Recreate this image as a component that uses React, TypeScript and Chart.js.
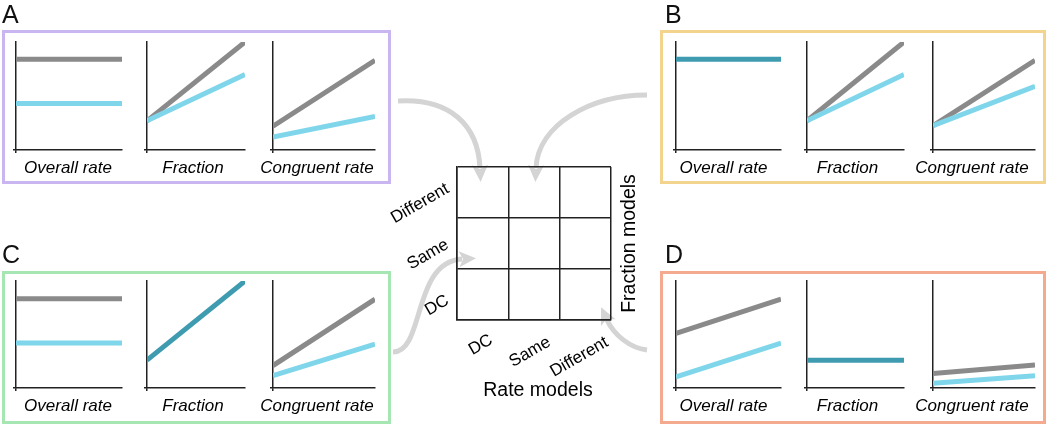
import React, { useEffect, useRef } from 'react';
import { Chart, registerables } from 'chart.js';

Chart.register(...registerables);

// ---------- data ----------
const xRange = [0, 1];
const plotLabels = ['Overall rate', 'Fraction', 'Congruent rate'];
const panelLetters = ['A', 'B', 'C', 'D'];
const modelLevels = ['DC', 'Same', 'Different'];
const rateTitle = 'Rate models';
const fractionTitle = 'Fraction models';

// Panel A
const aOverallGray = [0.84, 0.84];
const aOverallCyan = [0.43, 0.43];
const aFractionGray = [0.27, 1.0];
const aFractionCyan = [0.27, 0.7];
const aCongruentGray = [0.22, 0.83];
const aCongruentCyan = [0.12, 0.31];
// Panel B
const bOverallBoth = [0.84, 0.84];
const bFractionGray = [0.27, 1.0];
const bFractionCyan = [0.27, 0.7];
const bCongruentGray = [0.225, 0.83];
const bCongruentCyan = [0.225, 0.59];
// Panel C
const cOverallGray = [0.835, 0.835];
const cOverallCyan = [0.42, 0.42];
const cFractionBoth = [0.26, 1.0];
const cCongruentGray = [0.21, 0.83];
const cCongruentCyan = [0.115, 0.41];
// Panel D
const dOverallGray = [0.51, 0.83];
const dOverallCyan = [0.105, 0.42];
const dFractionBoth = [0.26, 0.26];
const dCongruentGray = [0.135, 0.215];
const dCongruentCyan = [0.045, 0.115];

// arrow bezier curves: start, control1, control2, end (page coordinates)
const arrowA = [398, 101, 450, 98, 478, 125, 480, 168];
const arrowB = [647, 95, 590, 95, 538, 125, 536, 168];
const arrowC = [393, 352, 425, 352, 412, 262, 462, 259];
const arrowD = [647, 350, 630, 348, 614, 335, 607, 320];

// ---------- styles ----------
const FONT = '"Liberation Sans", Arial, Helvetica, sans-serif';
const GRAY = '#8a8a8a';
const CYAN = '#7fd6ea';
const TEAL = '#3f9bb0';
const AXIS = '#222222';
const ARROW = '#d4d4d4';

type Series = { values: number[]; color: string };

const PADX = 20;

function SmallPlot(props: { left: number; top: number; width: number; height: number; series: Series[]; label: string; dx: number }) {
  const { left, top, width, height, series, label, dx } = props;
  const ref = useRef<HTMLCanvasElement>(null);
  useEffect(() => {
    const axisCommon = {
      type: 'linear' as const,
      min: 0,
      max: 1,
      afterBuildTicks: (s: any) => {
        s.ticks = [{ value: 0 }];
      },
      ticks: { display: false },
      grid: { display: true, drawOnChartArea: false, drawTicks: true, tickLength: 3, color: AXIS, lineWidth: 1.5 },
      border: { display: true, color: AXIS, width: 1.5 },
    };
    const chart = new Chart(ref.current as HTMLCanvasElement, {
      type: 'line',
      data: {
        datasets: series.map((s) => ({
          data: xRange.map((x, i) => ({ x, y: s.values[i] })),
          borderColor: s.color,
          borderWidth: 5,
          pointRadius: 0,
          borderCapStyle: 'butt',
          tension: 0,
          fill: false,
        })),
      },
      options: {
        responsive: false,
        animation: false,
        events: [],
        layout: { padding: { left: PADX - 3, right: PADX, top: 4, bottom: 30 } },
        plugins: { legend: { display: false }, tooltip: { enabled: false } },
        scales: { x: axisCommon as any, y: axisCommon as any },
      },
      plugins: [
        {
          id: 'xlabel',
          afterDraw(c: any) {
            const { ctx, chartArea } = c;
            ctx.save();
            ctx.font = `italic 17px ${FONT}`;
            ctx.fillStyle = '#000';
            ctx.textAlign = 'center';
            ctx.textBaseline = 'middle';
            ctx.fillText(label, (chartArea.left + chartArea.right) / 2 + dx, chartArea.bottom + 18);
            ctx.restore();
          },
        },
      ],
    } as any);
    return () => chart.destroy();
  }, []);
  return (
    <canvas
      ref={ref}
      width={width + 2 * PADX}
      height={height + 4 + 3 + 30}
      style={{ position: 'absolute', left: left - PADX, top: top - 4 }}
    />
  );
}

function ArrowLayer() {
  const ref = useRef<HTMLCanvasElement>(null);
  useEffect(() => {
    const curves = [arrowA, arrowB, arrowC, arrowD];
    const chart = new Chart(ref.current as HTMLCanvasElement, {
      type: 'scatter',
      data: { datasets: [] },
      options: {
        responsive: false,
        animation: false,
        events: [],
        layout: { padding: 0 },
        plugins: { legend: { display: false }, tooltip: { enabled: false } },
        scales: {
          x: { type: 'linear', min: 0, max: 1050, display: false },
          y: { type: 'linear', min: 0, max: 425, reverse: true, display: false },
        },
      },
      plugins: [
        {
          id: 'arrows',
          afterDraw(c: any) {
            const { ctx } = c;
            const xs = c.scales.x;
            const ys = c.scales.y;
            ctx.save();
            ctx.strokeStyle = ARROW;
            ctx.fillStyle = ARROW;
            ctx.lineWidth = 5;
            ctx.lineCap = 'butt';
            for (const p of curves) {
              const pts = [0, 2, 4, 6].map((k) => [xs.getPixelForValue(p[k]), ys.getPixelForValue(p[k + 1])]);
              ctx.beginPath();
              ctx.moveTo(pts[0][0], pts[0][1]);
              ctx.bezierCurveTo(pts[1][0], pts[1][1], pts[2][0], pts[2][1], pts[3][0], pts[3][1]);
              ctx.stroke();
              let ux = pts[3][0] - pts[2][0];
              let uy = pts[3][1] - pts[2][1];
              const len = Math.hypot(ux, uy) || 1;
              ux /= len;
              uy /= len;
              const nx = -uy;
              const ny = ux;
              const ex = pts[3][0];
              const ey = pts[3][1];
              ctx.beginPath();
              ctx.moveTo(ex + ux * 14, ey + uy * 14);
              ctx.lineTo(ex - ux * 3 + nx * 8, ey - uy * 3 + ny * 8);
              ctx.lineTo(ex + ux * 1, ey + uy * 1);
              ctx.lineTo(ex - ux * 3 - nx * 8, ey - uy * 3 - ny * 8);
              ctx.closePath();
              ctx.fill();
            }
            ctx.restore();
          },
        },
      ],
    } as any);
    return () => chart.destroy();
  }, []);
  return <canvas ref={ref} width={1050} height={425} style={{ position: 'absolute', left: 0, top: 0 }} />;
}

function GridChart() {
  const ref = useRef<HTMLCanvasElement>(null);
  useEffect(() => {
    const axis = {
      type: 'linear' as const,
      min: 0,
      max: 3,
      ticks: { display: false, stepSize: 1 },
      grid: { display: true, drawTicks: false, color: AXIS, lineWidth: 1.5 },
      border: { display: true, color: AXIS, width: 1.5 },
    };
    const chart = new Chart(ref.current as HTMLCanvasElement, {
      type: 'scatter',
      data: { datasets: [] },
      options: {
        responsive: false,
        animation: false,
        events: [],
        layout: { padding: { left: 77, right: 49, top: 12, bottom: 85 } },
        plugins: { legend: { display: false }, tooltip: { enabled: false } },
        scales: { x: axis as any, y: axis as any },
      },
      plugins: [
        {
          id: 'gridLabels',
          afterDraw(c: any) {
            const { ctx, chartArea } = c;
            const xs = c.scales.x;
            const ys = c.scales.y;
            ctx.save();
            ctx.fillStyle = '#000';
            ctx.textAlign = 'center';
            ctx.textBaseline = 'middle';
            ctx.font = `17px ${FONT}`;
            const leftDx = [-20, -29, -37];
            const botDx = [-2, -4, -6];
            const botDy = [25, 32, 37];
            modelLevels.forEach((lab, i) => {
              ctx.save();
              ctx.translate(chartArea.left + leftDx[i], ys.getPixelForValue(i + 0.5) + 11);
              ctx.rotate(-Math.PI / 6);
              ctx.fillText(lab, 0, 0);
              ctx.restore();
              ctx.save();
              ctx.translate(xs.getPixelForValue(i + 0.5) + botDx[i], chartArea.bottom + botDy[i]);
              ctx.rotate(-Math.PI / 6);
              ctx.fillText(lab, 0, 0);
              ctx.restore();
            });
            ctx.font = `19.5px ${FONT}`;
            ctx.fillText(rateTitle, (chartArea.left + chartArea.right) / 2 + 4, chartArea.bottom + 71);
            ctx.save();
            ctx.translate(chartArea.right + 19, (chartArea.top + chartArea.bottom) / 2);
            ctx.rotate(-Math.PI / 2);
            ctx.fillText(fractionTitle, 0, 0);
            ctx.restore();
            ctx.restore();
          },
        },
      ],
    } as any);
    return () => chart.destroy();
  }, []);
  return <canvas ref={ref} width={280} height={250} style={{ position: 'absolute', left: 380, top: 155 }} />;
}

const leftPlotsX = [
  [16, 122],
  [147, 245],
  [273, 375],
];
const rightPlotsX = [
  [676, 781],
  [807, 904],
  [933, 1035],
];

const panels = [
  {
    letter: panelLetters[0],
    color: '#c9b5f0',
    box: { left: 2, top: 30, width: 389, height: 154 },
    letterPos: { left: 2, top: 2 },
    plotsX: leftPlotsX,
    plotTop: 42,
    plotH: 108,
    dx: [-1, -3, -7],
    series: [
      [{ values: aOverallCyan, color: CYAN }, { values: aOverallGray, color: GRAY }],
      [{ values: aFractionCyan, color: CYAN }, { values: aFractionGray, color: GRAY }],
      [{ values: aCongruentCyan, color: CYAN }, { values: aCongruentGray, color: GRAY }],
    ],
  },
  {
    letter: panelLetters[1],
    color: '#f3d48f',
    box: { left: 660, top: 30, width: 386, height: 154 },
    letterPos: { left: 665, top: 2 },
    plotsX: rightPlotsX,
    plotTop: 42,
    plotH: 108,
    dx: [-5, -8, -12],
    series: [
      [{ values: bOverallBoth, color: TEAL }],
      [{ values: bFractionCyan, color: CYAN }, { values: bFractionGray, color: GRAY }],
      [{ values: bCongruentCyan, color: CYAN }, { values: bCongruentGray, color: GRAY }],
    ],
  },
  {
    letter: panelLetters[2],
    color: '#a6e6b2',
    box: { left: 2, top: 271, width: 389, height: 153 },
    letterPos: { left: 2, top: 242 },
    plotsX: leftPlotsX,
    plotTop: 281,
    plotH: 107,
    dx: [-1, -3, -7],
    series: [
      [{ values: cOverallCyan, color: CYAN }, { values: cOverallGray, color: GRAY }],
      [{ values: cFractionBoth, color: TEAL }],
      [{ values: cCongruentCyan, color: CYAN }, { values: cCongruentGray, color: GRAY }],
    ],
  },
  {
    letter: panelLetters[3],
    color: '#f4aa8f',
    box: { left: 660, top: 271, width: 386, height: 153 },
    letterPos: { left: 665, top: 242 },
    plotsX: rightPlotsX,
    plotTop: 281,
    plotH: 107,
    dx: [-5, -8, -12],
    series: [
      [{ values: dOverallCyan, color: CYAN }, { values: dOverallGray, color: GRAY }],
      [{ values: dFractionBoth, color: TEAL }],
      [{ values: dCongruentCyan, color: CYAN }, { values: dCongruentGray, color: GRAY }],
    ],
  },
];

export default function App() {
  return (
    <div
      style={{
        position: 'absolute',
        left: 0,
        top: 0,
        width: 1050,
        height: 425,
        background: '#fff',
        overflow: 'hidden',
        fontFamily: FONT,
      }}
    >
      <ArrowLayer />
      {panels.map((p) => (
        <React.Fragment key={p.letter}>
          <div
            style={{
              position: 'absolute',
              boxSizing: 'border-box',
              left: p.box.left,
              top: p.box.top,
              width: p.box.width,
              height: p.box.height,
              border: `3px solid ${p.color}`,
            }}
          />
          <div
            style={{
              position: 'absolute',
              left: p.letterPos.left,
              top: p.letterPos.top,
              fontSize: 25,
              lineHeight: '25px',
              color: '#111',
            }}
          >
            {p.letter}
          </div>
          {p.plotsX.map((xr, i) => (
            <SmallPlot
              key={i}
              left={xr[0]}
              top={p.plotTop}
              width={xr[1] - xr[0]}
              height={p.plotH}
              series={p.series[i]}
              label={plotLabels[i]}
              dx={p.dx[i]}
            />
          ))}
        </React.Fragment>
      ))}
      <GridChart />
    </div>
  );
}
